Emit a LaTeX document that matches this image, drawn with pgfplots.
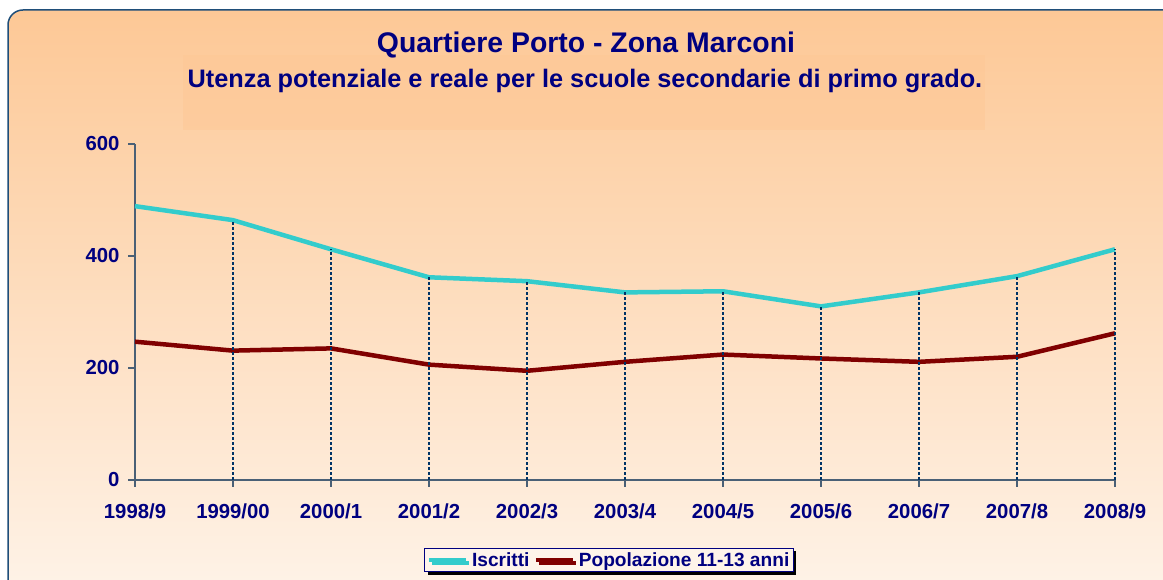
\documentclass[border=0pt]{standalone}
\usepackage{fontspec}
\setmainfont{Liberation Sans}
\usepackage{pgfplots}
\pgfplotsset{compat=1.18}
\usetikzlibrary{shadows}
\definecolor{navy}{HTML}{000080}
\definecolor{bgtop}{HTML}{FDC896}
\definecolor{bgbot}{HTML}{FEF4EA}
\definecolor{frame}{HTML}{1F4E79}
\definecolor{axcol}{HTML}{4A6076}
\definecolor{cyanl}{HTML}{33CCCC}
\definecolor{darkred}{HTML}{800000}
\definecolor{dropc}{HTML}{003366}
\begin{document}
\begin{tikzpicture}[x=1bp,y=1bp]
\clip (0,0) rectangle (1163,580);
\fill[white] (0,0) rectangle (1163,580);
\shade[top color=bgtop, bottom color=bgbot, rounded corners=15bp] (8,-30) rectangle (1190,570);
\draw[frame, line width=1.5bp, rounded corners=15bp] (8,-30) rectangle (1190,570);
\fill[bgtop, opacity=0.5] (183,450) rectangle (985,525);
\node[navy, font=\bfseries\fontsize{28.5}{28.5}\selectfont] at (586,535) {Quartiere Porto - Zona Marconi};
\node[navy, font=\bfseries\fontsize{25.4}{25.4}\selectfont] at (585,499) {Utenza potenziale e reale per le scuole secondarie di primo grado.};
\begin{axis}[
  at={(135bp,100bp)}, anchor=south west,
  scale only axis, width=980bp, height=336bp,
  xmin=0, xmax=10, ymin=0, ymax=600,
  axis x line*=bottom, axis y line*=left,
  axis line style={axcol, line width=1.5bp, -},
  xtick={0,...,10},
  xticklabels={1998/9,1999/00,2000/1,2001/2,2002/3,2003/4,2004/5,2005/6,2006/7,2007/8,2008/9},
  ytick={0,200,400,600},
  yticklabels={0,200,400,600},
  tick align=outside,
  major tick length=7bp,
  tick style={axcol, line width=1.5bp},
  ticklabel style={navy, font=\bfseries\fontsize{20.4}{20.4}\selectfont},
  xticklabel style={yshift=-13bp},
  yticklabel style={xshift=-5bp},
  clip=false,
  legend columns=2,
  legend style={at={(0.4837,-0.238)}, anchor=center, draw=navy, fill=bgbot,
    line width=1bp, font=\bfseries\fontsize{19.2}{19.2}\selectfont, text=navy,
    drop shadow={shadow xshift=3bp, shadow yshift=-3bp, fill=black, opacity=1},
    /tikz/every even column/.append style={column sep=2bp},
    /tikz/every odd column/.append style={column sep=2bp}, inner sep=2bp},
  legend image code/.code={\draw[#1, line width=4.5bp] (0cm,0cm) -- (1.3cm,0cm);},
]
\addplot[cyanl, line width=4.5bp] coordinates {
(0,489) (1,464) (2,412) (3,362) (4,355) (5,335) (6,337) (7,310) (8,335) (9,364) (10,412)};
\addlegendentry{Iscritti}
\addplot[darkred, line width=4.5bp] coordinates {
(0,247) (1,231) (2,235) (3,206) (4,195) (5,211) (6,224) (7,217) (8,211) (9,220) (10,262)};
\addlegendentry{Popolazione 11-13 anni}
\addplot[ycomb, dropc, line width=2bp, dash pattern=on 2.5bp off 2.5bp, forget plot] coordinates {
(1,464) (2,412) (3,362) (4,355) (5,335) (6,337) (7,310) (8,335) (9,364) (10,412)};
\end{axis}
\end{tikzpicture}
\end{document}
